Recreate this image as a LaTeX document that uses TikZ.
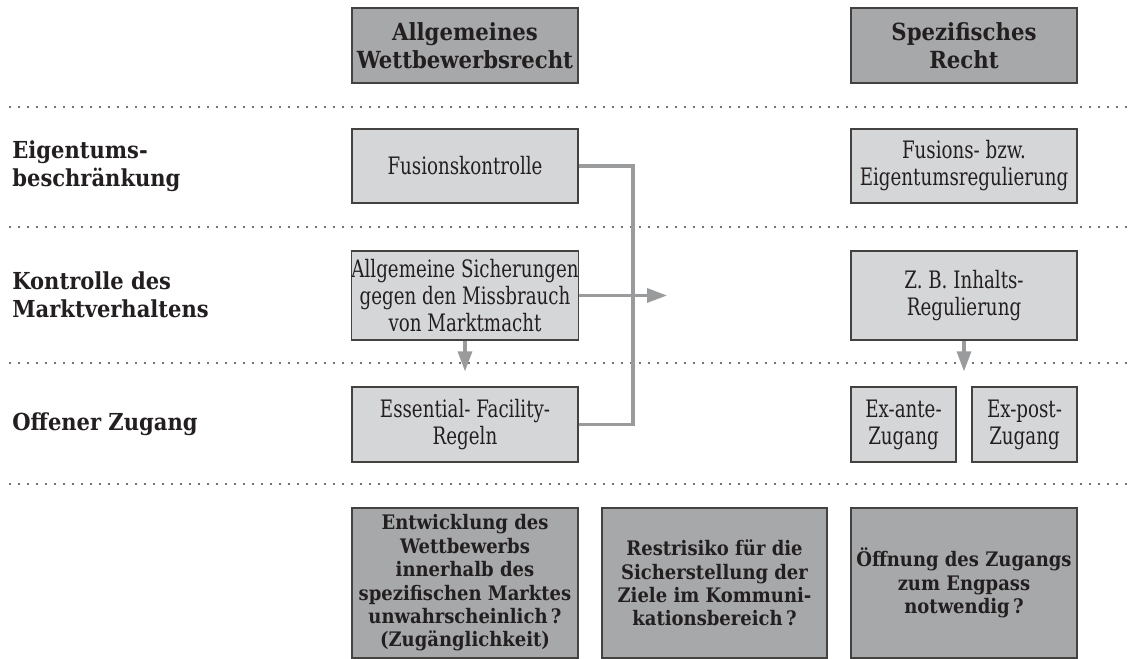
\documentclass[tikz,border=0pt]{standalone}
\usepackage{fontspec}
\setmainfont{DejaVu Serif Condensed}
\newfontfamily\schmal{DejaVu Serif Condensed}[FakeStretch=0.845]
\usepackage{tikz}
\usetikzlibrary{arrows.meta}

\definecolor{boxdark}{HTML}{A7A8AA}
\definecolor{boxlight}{HTML}{D5D6D8}
\definecolor{linegray}{HTML}{9A9B9D}
\definecolor{ink}{HTML}{231F20}

\tikzset{
	head/.style={draw=ink!85, line width=0.6pt, fill=boxdark, text=ink, align=center,
		minimum width=113pt, minimum height=37.5pt, inner sep=0pt, font=\bfseries\fontsize{11.8}{14}\selectfont},
	item/.style={draw=ink!85, line width=0.6pt, fill=boxlight, text=ink, align=center,
		minimum width=113pt, minimum height=37pt, inner sep=0pt, font=\schmal\fontsize{12}{13.5}\selectfont},
	quest/.style={draw=ink!85, line width=0.6pt, fill=boxdark, text=ink, align=center,
		minimum width=113pt, minimum height=75pt, inner sep=0pt, font=\bfseries\fontsize{10}{11.7}\selectfont},
	rowlabel/.style={anchor=west, align=left, text=ink, inner sep=0pt, font=\bfseries\fontsize{11.7}{14}\selectfont},
	sep/.style={line width=1.1pt, dash pattern=on 0pt off 4.5pt, line cap=round, ink!85},
	conn/.style={line width=1.6pt, linegray},
	pfeil/.style={conn, -{Triangle[length=10pt, width=7pt]}}
}

\begin{document}
\begin{tikzpicture}[x=0.5pt, y=-0.5pt]
	\useasboundingbox (0,0) rectangle (1137,659);

	% Kopfzeile
	\node[head] (hAllg) at (465,45.5) {Allgemeines\\Wettbewerbsrecht};
	\node[head] (hSpez) at (964,45.5) {Spezifisches\\Recht};

	% Trennlinien
	\foreach \y in {107,227,363,484}
		\draw[sep] (10,\y) -- (1133,\y);

	% Zeilen
	\node[rowlabel] (lEig) at (12,166) {Eigentums-\\beschränkung};
	\node[rowlabel] (lKon) at (12,295) {Kontrolle des\\Marktverhaltens};
	\node[rowlabel] (lZug) at (12,424) {Offener Zugang};

	\node[item] (fus) at (465,166) {Fusionskontrolle};
	\node[item, minimum height=44.5pt] (allg) at (465,295.5) {Allgemeine Sicherungen\\gegen den Missbrauch\\von Marktmacht};
	\node[item, minimum height=37.5pt] (ess) at (465,424.5) {Essential- Facility-\\Regeln};

	\node[item] (fer) at (964,166) {Fusions- bzw.\\Eigentumsregulierung};
	\node[item, minimum height=44.5pt] (inh) at (964,295.5) {Z. B. Inhalts-\\Regulierung};
	\node[item, minimum width=52.5pt, minimum height=37.5pt] (exa) at (903.5,424.5) {Ex-ante-\\Zugang};
	\node[item, minimum width=52.5pt, minimum height=37.5pt] (exp) at (1024.5,424.5) {Ex-post-\\Zugang};

	% Fragen
	\node[quest] (q1) at (465,583) {Entwicklung des\\Wettbewerbs\\innerhalb des\\spezifischen Marktes\\unwahrscheinlich\,?\\(Zugänglichkeit)};
	\node[quest, minimum width=112.5pt] (q2) at (714.5,583) {Restrisiko für die\\Sicherstellung der\\Ziele im Kommuni-\\kationsbereich\,?};
	\node[quest] (q3) at (964,583) {Öffnung des Zugangs\\zum Engpass\\notwendig\,?};

	% Verbindungen
	\coordinate (knick) at (633,0);
	\coordinate (ziel) at (667,0);
	\draw[conn] (fus.east) -| (knick |- ess.east) -- (ess.east);
	\draw[pfeil] (allg.east) -- (ziel |- allg.east);
	\draw[pfeil, shorten >=7.5pt] (allg.south) -- (ess.north);
	\draw[pfeil, shorten >=7.5pt] (inh.south) -- (inh.south |- exa.north);
\end{tikzpicture}
\end{document}
